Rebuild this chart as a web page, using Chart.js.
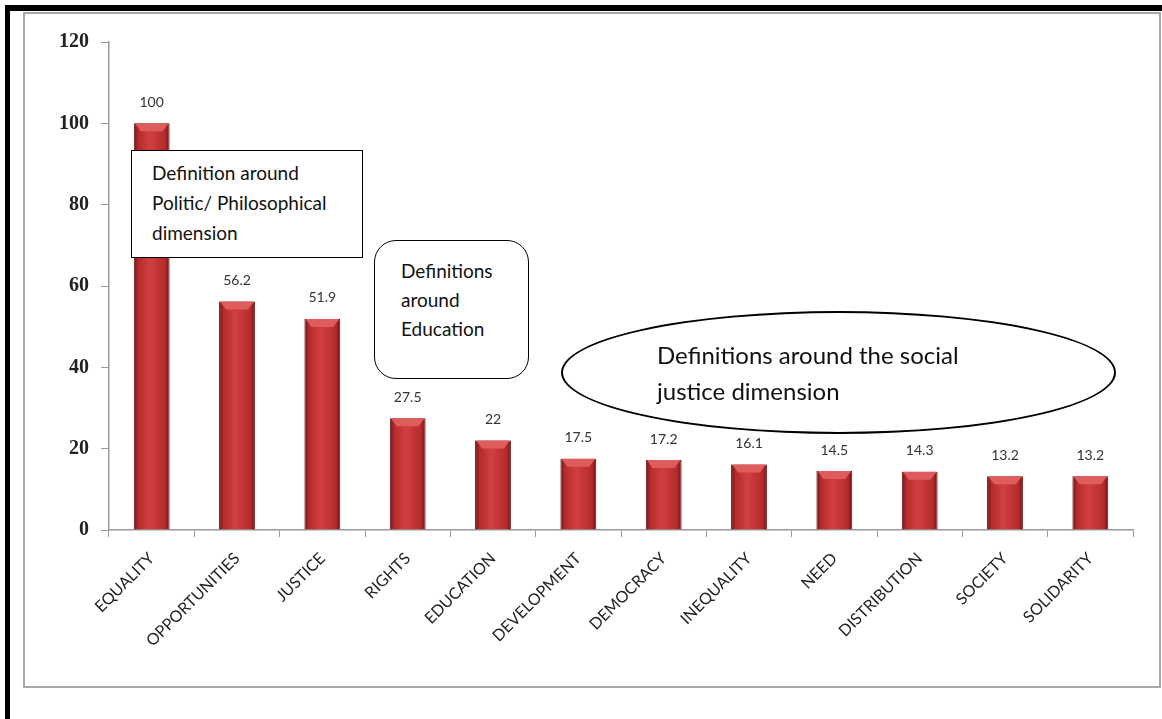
<!DOCTYPE html>
<html>
<head>
<meta charset="utf-8">
<script src="https://cdn.jsdelivr.net/npm/chart.js@4/dist/chart.umd.min.js"></script>
<style>
    body { margin: 0; background: #fff; width: 1162px; height: 719px; position: relative; overflow: hidden; font-family: Lato, "Open Sans", sans-serif; }
    .blackTop { position: absolute; left: 5px; top: 5px; width: 1157px; height: 6px; background: #000; }
    .blackLeft { position: absolute; left: 5px; top: 5px; width: 5px; height: 714px; background: #000; }
    .frame { position: absolute; left: 23px; top: 12px; width: 1134px; height: 672px; border: 2px solid #a8a8a8; }
    #chartBox { position: absolute; left: 25px; top: 14px; width: 1134px; height: 672px; }
    .note { position: absolute; background: #fff; color: #111; box-sizing: border-box; }
    .box1 { left: 131px; top: 150px; width: 232px; height: 108px; border: 1.5px solid #000; font-size: 19px; line-height: 30px; padding: 7px 0 0 20px; }
    .box2 { left: 374px; top: 240px; width: 155px; height: 139px; border: 1.5px solid #000; border-radius: 22px; font-size: 19px; line-height: 29px; padding: 15px 0 0 26px; }
    .ellipse { left: 561px; top: 311px; width: 555px; height: 123px; border: 2px solid #000; border-radius: 50%; background: transparent; font-size: 24px; line-height: 36px; padding: 24px 0 0 94px; }
</style>
</head>
<body>
<div class="blackTop"></div>
<div class="blackLeft"></div>
<div class="frame"></div>
<div id="chartBox"><canvas id="barChart"></canvas></div>
<div class="note box1">Definition around<br>Politic/ Philosophical<br>dimension</div>
<div class="note box2">Definitions<br>around<br>Education</div>
<div class="note ellipse">Definitions around the social<br>justice dimension</div>

<script>
// Chart data
const categories = ['EQUALITY', 'OPPORTUNITIES', 'JUSTICE', 'RIGHTS', 'EDUCATION', 'DEVELOPMENT',
    'DEMOCRACY', 'INEQUALITY', 'NEED', 'DISTRIBUTION', 'SOCIETY', 'SOLIDARITY'];
const values = [100, 56.2, 51.9, 27.5, 22, 17.5, 17.2, 16.1, 14.5, 14.3, 13.2, 13.2];
const valueLabels = ['100', '56.2', '51.9', '27.5', '22', '17.5', '17.2', '16.1', '14.5', '14.3', '13.2', '13.2'];
const yTicks = [0, 20, 40, 60, 80, 100, 120];

const barPct = 0.42;

// horizontal gradient for each bar, built from the x scale
function barFill(context) {
    const chart = context.chart;
    const xs = chart.scales.x;
    if (!xs || context.dataIndex === undefined) return '#c43535';
    const cx = xs.getPixelForValue(context.dataIndex);
    const w = (xs.width / categories.length) * barPct;
    if (!isFinite(cx) || !isFinite(w) || w <= 0) return '#c43535';
    const g = chart.ctx.createLinearGradient(cx - w / 2, 0, cx + w / 2, 0);
    g.addColorStop(0, '#6e1212');
    g.addColorStop(0.12, '#b42a2a');
    g.addColorStop(0.45, '#d24040');
    g.addColorStop(0.88, '#b42a2a');
    g.addColorStop(1, '#6e1212');
    return g;
}

// top bevel + value labels
const barExtras = {
    id: 'barExtras',
    afterDatasetsDraw(chart) {
        const ctx = chart.ctx;
        const meta = chart.getDatasetMeta(0);
        meta.data.forEach(function(bar, i) {
            const left = bar.x - bar.width / 2;
            const right = bar.x + bar.width / 2;
            const h = 8;
            ctx.save();
            ctx.fillStyle = '#df5c5c';
            ctx.beginPath();
            ctx.moveTo(left + 1, bar.y);
            ctx.lineTo(right - 1, bar.y);
            ctx.lineTo(right - 7, bar.y + h);
            ctx.lineTo(left + 7, bar.y + h);
            ctx.closePath();
            ctx.fill();
            ctx.fillStyle = '#333';
            ctx.font = '14px Lato, sans-serif';
            ctx.textAlign = 'center';
            ctx.textBaseline = 'middle';
            ctx.fillText(valueLabels[i], bar.x, bar.y - 21);
            ctx.restore();
        });
    }
};

function loadChart() {
    const ctx = document.getElementById('barChart').getContext('2d');
    new Chart(ctx, {
        type: 'bar',
        data: {
            labels: categories,
            datasets: [{
                data: values,
                backgroundColor: barFill,
                borderColor: '#5a0e0e',
                borderWidth: 1,
                categoryPercentage: 1,
                barPercentage: barPct
            }]
        },
        options: {
            responsive: true,
            maintainAspectRatio: false,
            animation: false,
            layout: { padding: { top: 28, right: 26, left: 0, bottom: 0 } },
            plugins: {
                legend: { display: false },
                tooltip: { enabled: false }
            },
            scales: {
                x: {
                    afterFit: function(s) { s.height = 156; },
                    grid: { display: true, drawOnChartArea: false, offset: true, tickLength: 7, color: '#999' },
                    border: { color: '#999', width: 1.5 },
                    ticks: {
                        minRotation: 45, maxRotation: 45, autoSkip: false,
                        color: '#222', padding: 12,
                        font: { family: 'Lato, sans-serif', size: 16 }
                    }
                },
                y: {
                    min: 0, max: 120,
                    afterFit: function(s) { s.width = 84; },
                    afterBuildTicks: function(s) { s.ticks = yTicks.map(v => ({ value: v })); },
                    grid: { display: true, drawOnChartArea: false, tickLength: 8, color: '#999' },
                    border: { color: '#999', width: 1.5 },
                    ticks: {
                        color: '#222', padding: 12,
                        font: { family: '"Liberation Serif", serif', size: 20, weight: 'bold' }
                    }
                }
            }
        },
        plugins: [barExtras]
    });
}

window.onload = function() {
    if (document.getElementById('barChart')) {
        loadChart();
    }
};
</script>
</body>
</html>
